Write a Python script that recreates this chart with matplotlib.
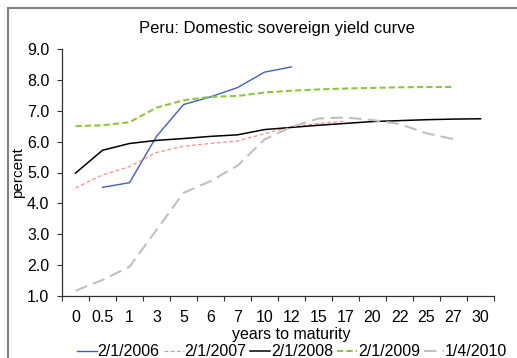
import numpy as np
import matplotlib
matplotlib.use('Agg')
import matplotlib.pyplot as plt
from matplotlib.patches import Rectangle

plt.rcParams['font.family'] = ['Liberation Sans', 'DejaVu Sans']

# maturities (categories on the x axis)
maturity = ['0', '0.5', '1', '3', '5', '6', '7', '10', '12', '15', '17', '20', '22', '25', '27', '30']

# yields, percent (None = no quote)
y2006 = [None, 4.52, 4.67, 6.17, 7.2, 7.45, 7.75, 8.25, 8.42,
         None, None, None, None, None, None, None]
y2007 = [4.5, 4.92, 5.19, 5.65, 5.85, 5.94, 6.02, 6.26, 6.48,
         6.59, 6.66, None, None, None, None, None]
y2008 = [4.98, 5.72, 5.94, 6.04, 6.1, 6.17, 6.22, 6.39, 6.46,
         6.53, 6.59, 6.65, 6.68, 6.71, 6.73, 6.74]
y2009 = [6.5, 6.53, 6.63, 7.1, 7.34, 7.45, 7.48, 7.59, 7.65,
         7.69, 7.72, 7.74, 7.76, 7.77, 7.77, None]
y2010 = [1.17, 1.52, 1.95, 3.14, 4.34, 4.72, 5.22, 6.07, 6.48,
         6.75, 6.78, 6.7, 6.57, 6.27, 6.08, None]

labels = ['2/1/2006', '2/1/2007', '2/1/2008', '2/1/2009', '1/4/2010']


def arr(v):
    return np.array([np.nan if a is None else a for a in v], dtype=float)


fig = plt.figure(figsize=(5.17, 3.58), dpi=100)
ax = fig.add_axes([62 / 517, 62 / 358, 432 / 517, 247 / 358])

x = np.arange(len(maturity))
ax.plot(x, arr(y2006), color='#4060B8', lw=1.0, label=labels[0])
ax.plot(x, arr(y2007), color='#FF8C8C', lw=0.9, dashes=(3, 2), label=labels[1])
ax.plot(x, arr(y2008), color='black', lw=1.1, label=labels[2])
ax.plot(x, arr(y2009), color='#8DC63F', lw=1.5, dashes=(3, 1.5), label=labels[3])
ax.plot(x, arr(y2010), color='#C0C0C0', lw=1.5, dashes=(6, 3), label=labels[4])

ax.set_xlim(-0.5, len(maturity) - 0.5)
ax.set_ylim(1.0, 9.0)
ax.set_yticks(np.arange(1, 10, 1))
ax.set_yticklabels(['%.1f' % v for v in np.arange(1, 10, 1)])
ax.set_xticks(x)
ax.set_xticklabels(maturity)
ax.set_xticks(np.arange(-0.5, len(maturity), 1), minor=True)
ax.tick_params(axis='x', which='major', length=0, pad=10, labelsize=11.5)
ax.tick_params(axis='x', which='minor', length=3.6, width=0.8, color='#303030')
ax.tick_params(axis='y', length=3.6, width=0.8, color='#303030', labelsize=11.5, pad=5.5)
for s in ['top', 'right']:
    ax.spines[s].set_visible(False)
for s in ['left', 'bottom']:
    ax.spines[s].set_color('#303030')
    ax.spines[s].set_linewidth(0.9)

ax.set_ylabel('percent', fontsize=11)
ax.yaxis.set_label_coords(-37 / 432, 0.5)
fig.text(291 / 517, 1 - 334 / 358, 'years to maturity', ha='center', va='center', fontsize=11.5)
fig.text(277 / 517, 1 - 28 / 358, 'Peru: Domestic sovereign yield curve', ha='center', va='center', fontsize=12)

fig.legend(loc='center', bbox_to_anchor=(292 / 517, 1 - 352 / 358), ncol=5, frameon=False,
           fontsize=11.5, handlelength=1.25, handletextpad=0.05, columnspacing=0.25,
           borderpad=0, borderaxespad=0)

# outer chart frame
fig.patches.append(Rectangle((8 / 517, -0.05), 1.2, 1 - 8 / 358 + 0.05, transform=fig.transFigure,
                             fill=False, edgecolor='#808080', lw=1.5))

fig.savefig('out.png', dpi=100)
